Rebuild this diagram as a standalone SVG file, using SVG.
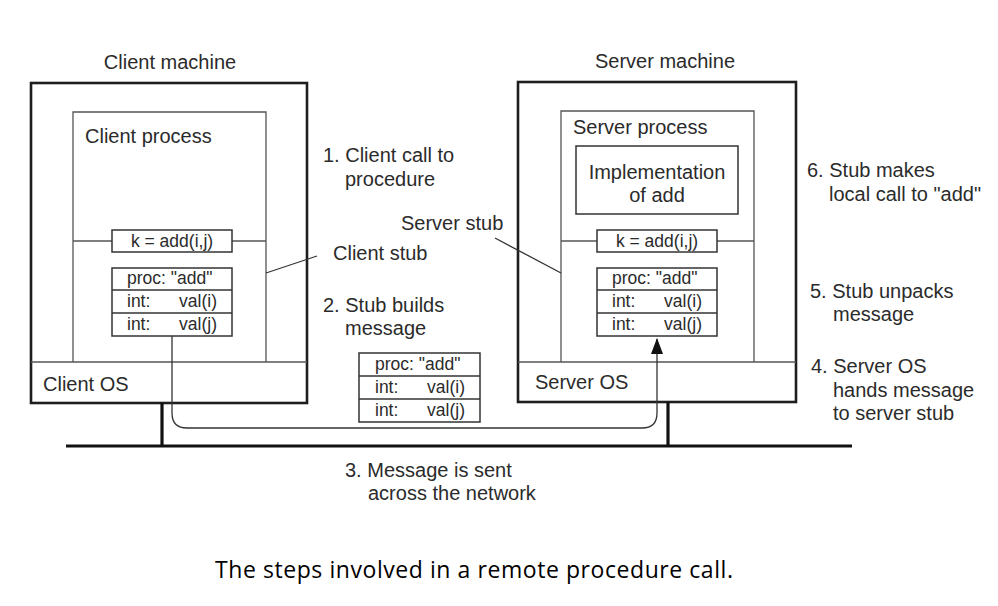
<svg xmlns="http://www.w3.org/2000/svg" width="998" height="606" viewBox="0 0 998 606">
<style>
  .t { font-family: "Liberation Sans", Arial, sans-serif; font-size: 20px; fill: #2b2b2b; }
  .s { font-family: "Liberation Sans", Arial, sans-serif; font-size: 17.5px; fill: #2b2b2b; }
  .end { text-anchor: end; }
  .mid { text-anchor: middle; }
  .machine { fill: none; stroke: #1e1e1e; stroke-width: 2.6; }
  .thin { fill: none; stroke: #555; stroke-width: 1.3; }
  .box { fill: none; stroke: #333; stroke-width: 1.5; }
  .heavy { fill: none; stroke: #111; stroke-width: 3.2; }
  .lead { fill: none; stroke: #333; stroke-width: 1.3; }
  .cap { font-family: "Open Sans", "Noto Sans", sans-serif; font-size: 23px; fill: #000; }
</style>
<defs>
  <marker id="arrow" viewBox="0 0 16 12" refX="15" refY="6" markerWidth="16" markerHeight="12" markerUnits="userSpaceOnUse" orient="auto">
    <path d="M16,6 L0,0 L0,12 Z" fill="#111"/>
  </marker>
</defs>
<rect width="998" height="606" fill="#fff"/>

<g id="client-machine">
  <text class="t mid" x="170" y="69">Client machine</text>
  <rect class="machine" x="31" y="83" width="276" height="320"/>
  <line class="thin" x1="31" y1="362" x2="307" y2="362"/>
  <text class="t" x="43" y="391">Client OS</text>
</g>
<g id="client-process">
  <path class="thin" d="M73,362 V112 H266 V362"/>
  <text class="t" x="85" y="143">Client process</text>
  <line class="thin" x1="73" y1="241" x2="112" y2="241"/>
  <line class="thin" x1="232" y1="241" x2="266" y2="241"/>
</g>
<g id="client-call">
  <rect class="box" x="112" y="230" width="120" height="22"/>
  <text class="s mid" x="172" y="247">k = add(i,j)</text>
</g>
<g id="client-message">
  <rect class="box" x="112" y="268" width="120" height="68"/>
  <line class="box" x1="112" y1="290" x2="232" y2="290"/>
  <line class="box" x1="112" y1="313" x2="232" y2="313"/>
  <text class="s" x="127" y="284">proc: "add"</text>
  <text class="s" x="127" y="307">int:</text>
  <text class="s end" x="217" y="307">val(i)</text>
  <text class="s" x="127" y="330">int:</text>
  <text class="s end" x="217" y="330">val(j)</text>
</g>

<g id="server-machine">
  <text class="t mid" x="665" y="68">Server machine</text>
  <rect class="machine" x="518" y="82" width="278" height="320"/>
  <line class="thin" x1="518" y1="362" x2="796" y2="362"/>
  <text class="t" x="535" y="389">Server OS</text>
</g>
<g id="server-process">
  <path class="thin" d="M561,362 V111 H754 V362"/>
  <text class="t" x="573" y="134">Server process</text>
  <line class="thin" x1="561" y1="241" x2="597" y2="241"/>
  <line class="thin" x1="717" y1="241" x2="754" y2="241"/>
</g>
<g id="server-impl">
  <rect class="box" x="576" y="146" width="162" height="68"/>
  <text class="t mid" x="657" y="179">Implementation</text>
  <text class="t mid" x="657" y="202">of add</text>
</g>
<g id="server-call">
  <rect class="box" x="597" y="230" width="120" height="22"/>
  <text class="s mid" x="657" y="247">k = add(i,j)</text>
</g>
<g id="server-message">
  <rect class="box" x="597" y="268" width="120" height="68"/>
  <line class="box" x1="597" y1="290" x2="717" y2="290"/>
  <line class="box" x1="597" y1="313" x2="717" y2="313"/>
  <text class="s" x="612" y="284">proc: "add"</text>
  <text class="s" x="612" y="307">int:</text>
  <text class="s end" x="702" y="307">val(i)</text>
  <text class="s" x="612" y="330">int:</text>
  <text class="s end" x="702" y="330">val(j)</text>
</g>

<g id="wire-message">
  <rect class="box" x="359" y="353" width="121" height="69"/>
  <line class="box" x1="359" y1="376" x2="480" y2="376"/>
  <line class="box" x1="359" y1="399" x2="480" y2="399"/>
  <text class="s" x="375" y="370">proc: "add"</text>
  <text class="s" x="375" y="393">int:</text>
  <text class="s end" x="465" y="393">val(i)</text>
  <text class="s" x="375" y="416">int:</text>
  <text class="s end" x="465" y="416">val(j)</text>
</g>

<g id="network">
  <line class="heavy" x1="66" y1="446" x2="852" y2="446" stroke-width="3.6"/>
</g>

<g id="connectors">
  <line class="heavy" x1="162" y1="403" x2="162" y2="446"/>
  <line class="heavy" x1="668" y1="402" x2="668" y2="446"/>
  <line class="lead" x1="266" y1="273" x2="317" y2="256"/>
  <line class="lead" x1="495" y1="238" x2="561" y2="273"/>
  <path class="lead" d="M172,336 V413 Q172,428 187,428 H642 Q657,428 657,413 V339" marker-end="url(#arrow)"/>
</g>

<g id="labels">
  <text class="t" x="323" y="162">1. Client call to</text>
  <text class="t" x="345" y="186">procedure</text>
  <text class="t" x="401" y="230">Server stub</text>
  <text class="t" x="333" y="260">Client stub</text>
  <text class="t" x="323" y="312">2. Stub builds</text>
  <text class="t" x="345" y="335">message</text>
  <text class="t" x="345" y="477">3. Message is sent</text>
  <text class="t" x="368" y="500">across the network</text>
  <text class="t" x="807" y="177">6. Stub makes</text>
  <text class="t" x="829" y="201">local call to "add"</text>
  <text class="t" x="810" y="298">5. Stub unpacks</text>
  <text class="t" x="833" y="321">message</text>
  <text class="t" x="811" y="373">4. Server OS</text>
  <text class="t" x="833" y="397">hands message</text>
  <text class="t" x="833" y="420">to server stub</text>
</g>

<text class="cap" x="215" y="578" textLength="518">The steps involved in a remote procedure call.</text>
</svg>
